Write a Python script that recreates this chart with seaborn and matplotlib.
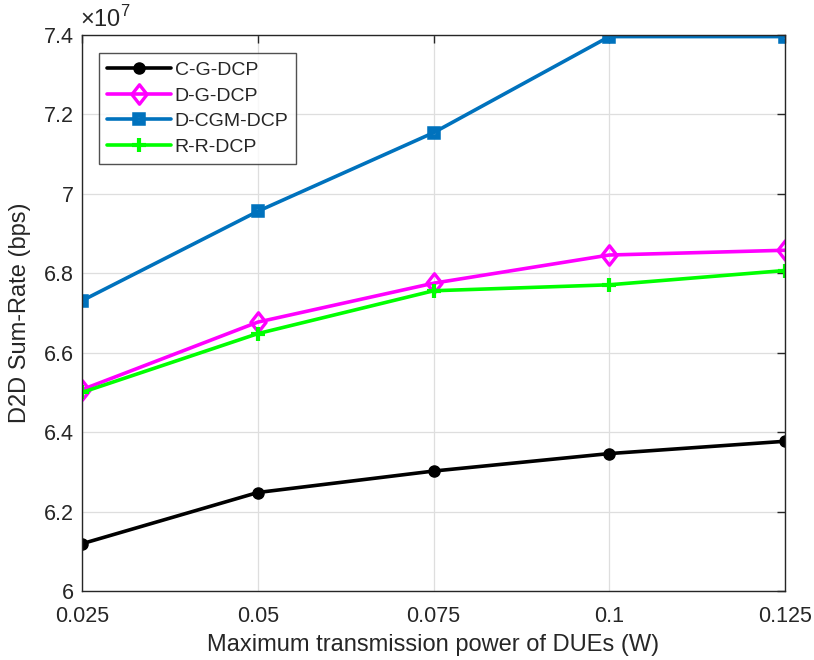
import matplotlib
matplotlib.use("Agg")
import matplotlib.pyplot as plt
from matplotlib.ticker import FuncFormatter, FixedLocator
from matplotlib.path import Path
import seaborn as sns
import pandas as pd

# Maximum transmission power of DUEs (W)
power = [0.025, 0.05, 0.075, 0.1, 0.125]

# D2D sum-rate (bps) for each scheme
c_g_dcp = [6.119e7, 6.248e7, 6.302e7, 6.346e7, 6.377e7]
d_g_dcp = [6.507e7, 6.677e7, 6.775e7, 6.846e7, 6.858e7]
d_cgm_dcp = [6.731e7, 6.956e7, 7.154e7, 7.396e7, 7.396e7]
r_r_dcp = [6.500e7, 6.648e7, 6.756e7, 6.771e7, 6.807e7]

series_names = ["C-G-DCP", "D-G-DCP", "D-CGM-DCP", "R-R-DCP"]
series_values = [c_g_dcp, d_g_dcp, d_cgm_dcp, r_r_dcp]

yticks = [6.0e7, 6.2e7, 6.4e7, 6.6e7, 6.8e7, 7.0e7, 7.2e7, 7.4e7]

sns.set_theme(style="white")
plt.rcParams["font.family"] = ["Liberation Sans", "DejaVu Sans"]
plt.rcParams["mathtext.fontset"] = "custom"
plt.rcParams["mathtext.rm"] = "Liberation Sans"

fig = plt.figure(figsize=(8.14, 6.6), dpi=100)
ax = fig.add_axes([82 / 814, 1 - 591 / 660, (785 - 82) / 814, (591 - 35) / 660])

# slightly tall diamond
diamond = Path([(0, 1), (0.78, 0), (0, -1), (-0.78, 0), (0, 1)],
               [Path.MOVETO, Path.LINETO, Path.LINETO, Path.LINETO,
                Path.CLOSEPOLY])

styles = {
    "C-G-DCP": dict(color="black", marker="o", markersize=8,
                    markerfacecolor="black", markeredgecolor="black",
                    markeredgewidth=1.0),
    "D-G-DCP": dict(color="#FF00FF", marker=diamond, markersize=14,
                    markerfacecolor="none", markeredgecolor="#FF00FF",
                    markeredgewidth=2.4),
    "D-CGM-DCP": dict(color="#0072BD", marker="s", markersize=6.0,
                      markerfacecolor="none", markeredgecolor="#0072BD",
                      markeredgewidth=4.0),
    "R-R-DCP": dict(color="#00FF00", marker="+", markersize=10,
                    markerfacecolor="#00FF00", markeredgecolor="#00FF00",
                    markeredgewidth=3.0),
}

for name, vals in zip(series_names, series_values):
    df = pd.DataFrame({"power": power, "rate": vals})
    sns.lineplot(data=df, x="power", y="rate", ax=ax, linewidth=2.6,
                 label=name, **styles[name])

ax.set_xlim(0.025, 0.125)
ax.set_ylim(6.0e7, 7.4e7)
ax.xaxis.set_major_locator(FixedLocator(power))
ax.yaxis.set_major_locator(FixedLocator(yticks))
ax.xaxis.set_major_formatter(FuncFormatter(lambda v, p: f"{v:g}"))
ax.yaxis.set_major_formatter(FuncFormatter(lambda v, p: f"{v / 1e7:g}"))

ax.grid(True, color="#dedede", linewidth=0.9)
ax.set_axisbelow(True)
for sp in ax.spines.values():
    sp.set_color("#262626")
    sp.set_linewidth(1.0)
ax.tick_params(axis="both", direction="in", length=6, width=1.0,
               colors="#262626", labelsize=15.5, top=True, right=True,
               labelcolor="#262626")
ax.tick_params(axis="x", pad=11)
ax.tick_params(axis="y", pad=6)

ax.set_xlabel("Maximum transmission power of DUEs (W)", fontsize=17,
              color="#262626", labelpad=5)
ax.set_ylabel("D2D Sum-Rate (bps)", fontsize=17, color="#262626",
              labelpad=9)

ax.text(-0.003, 1.006, r"$\times\mathregular{10}^{\mathregular{7}}$",
        transform=ax.transAxes, fontsize=17, color="#262626",
        ha="left", va="bottom")

leg = ax.legend(loc="upper left", bbox_to_anchor=(0.024, 0.967),
                fontsize=14, frameon=True, fancybox=False,
                edgecolor="#262626", handlelength=3.3, handletextpad=0.2,
                borderpad=0.4, labelspacing=0.42, borderaxespad=0.0)
leg.get_frame().set_linewidth(1.0)

fig.savefig("out.png", dpi=100)
